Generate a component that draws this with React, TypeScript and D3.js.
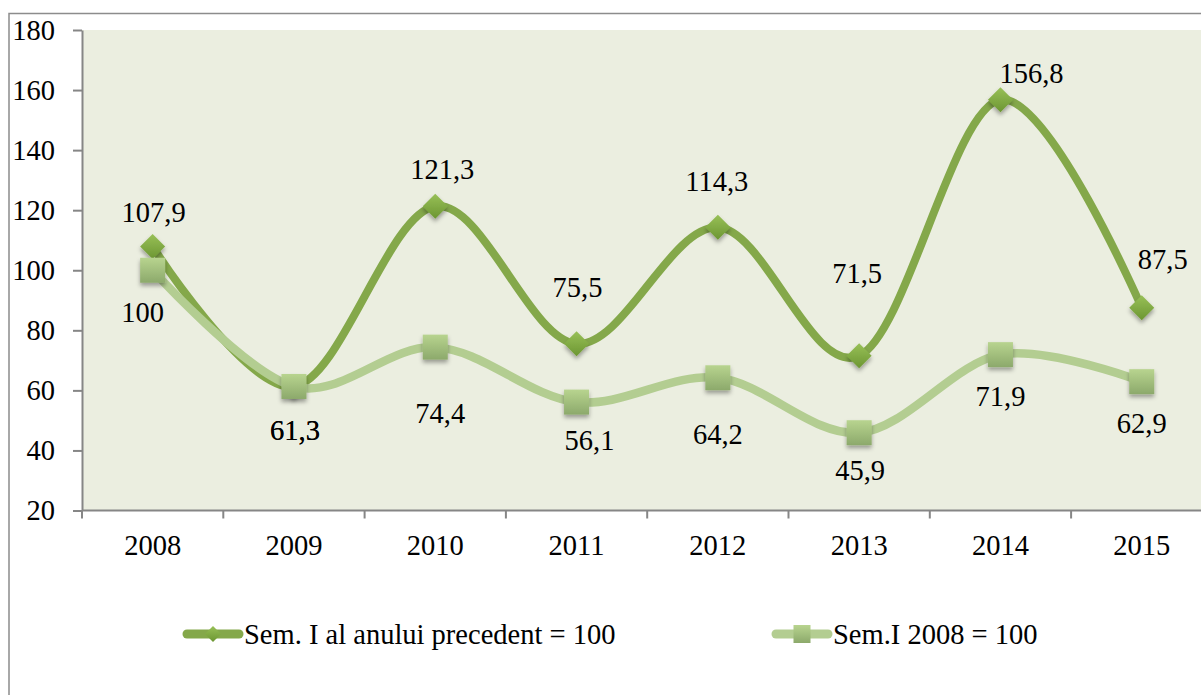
import React, { useEffect, useRef } from 'react';
import * as d3 from 'd3';

const years = ['2008', '2009', '2010', '2011', '2012', '2013', '2014', '2015'];
const semPrev = [107.9, 61.3, 121.3, 75.5, 114.3, 71.5, 156.8, 87.5];
const sem2008 = [100, 61.3, 74.4, 56.1, 64.2, 45.9, 71.9, 62.9];
const yTicks = [20, 40, 60, 80, 100, 120, 140, 160, 180];
const seriesNames = ['Sem. I al anului precedent = 100', 'Sem.I 2008 = 100'];

// label nudges (px) relative to each point, as Excel placed them
const prevLabelOffset = [[1, -35], [1, 44], [7, -37], [1, -57], [-1, -46], [-2, -83], [31, -27], [21, -49]];
const baseLabelOffset = [[-10, 42], [1, 44], [5, 66], [13, 38], [0, 56], [1, 37], [0, 41], [0, 41]];

const W = 1201;
const H = 695;
const FONT = '"Liberation Serif", serif';
const FS = 28.5;

const App: React.FC = () => {
    const svgRef = useRef<SVGSVGElement>(null);

    useEffect(() => {
        if (!svgRef.current) return;
        const svg = d3.select(svgRef.current);
        svg.selectAll('*').remove();

        const left = 82;
        const top = 30;
        const bottom = 510.5;
        const band = 141.3;

        const x = d3.scaleBand<string>()
            .domain(years)
            .range([left, left + band * years.length])
            .padding(0);
        const cx = (d: string) => (x(d) as number) + x.bandwidth() / 2;

        const y = d3.scaleLinear().domain([20, 180]).range([bottom, top]);

        const defs = svg.append('defs');

        const dg = defs.append('linearGradient')
            .attr('id', 'diamond-grad')
            .attr('x1', '0%').attr('y1', '0%').attr('x2', '0%').attr('y2', '100%');
        dg.append('stop').attr('offset', '0%').attr('stop-color', '#98c057');
        dg.append('stop').attr('offset', '100%').attr('stop-color', '#6c9632');

        const sg = defs.append('linearGradient')
            .attr('id', 'square-grad')
            .attr('x1', '0%').attr('y1', '0%').attr('x2', '0%').attr('y2', '100%');
        sg.append('stop').attr('offset', '0%').attr('stop-color', '#b8d48f');
        sg.append('stop').attr('offset', '100%').attr('stop-color', '#8ca96b');

        const shadow = defs.append('filter')
            .attr('id', 'mk-shadow')
            .attr('x', '-50%').attr('y', '-50%').attr('width', '200%').attr('height', '200%');
        shadow.append('feDropShadow')
            .attr('dx', 0).attr('dy', 3).attr('stdDeviation', 2)
            .attr('flood-color', '#000').attr('flood-opacity', 0.35);

        // outer chart border
        svg.append('rect')
            .attr('x', 9).attr('y', 13.5)
            .attr('width', W + 20).attr('height', H + 20)
            .attr('fill', '#fff')
            .attr('stroke', '#8c8c8c')
            .attr('stroke-width', 1.5);

        // plot area
        svg.append('rect')
            .attr('x', left).attr('y', top)
            .attr('width', band * years.length).attr('height', bottom - top)
            .attr('fill', '#ebeee0');

        // Y axis
        const yAxis = svg.append('g')
            .attr('transform', `translate(${left}, 0)`)
            .call(d3.axisLeft(y).tickValues(yTicks).tickSize(9).tickSizeOuter(0).tickPadding(18).tickFormat(d => `${d}`));
        yAxis.select('.domain').attr('stroke', '#868686').attr('stroke-width', 2);
        yAxis.selectAll('.tick line').attr('stroke', '#868686').attr('stroke-width', 2);
        yAxis.selectAll('.tick text')
            .attr('font-family', FONT).attr('font-size', FS).attr('fill', '#000');

        // X axis (ticks between categories)
        const xAxis = svg.append('g');
        xAxis.append('line')
            .attr('x1', left).attr('x2', left + band * years.length)
            .attr('y1', bottom).attr('y2', bottom)
            .attr('stroke', '#868686').attr('stroke-width', 2);
        xAxis.selectAll('.xt')
            .data(years)
            .enter()
            .append('line')
            .attr('x1', d => x(d) as number).attr('x2', d => x(d) as number)
            .attr('y1', bottom).attr('y2', bottom + 8)
            .attr('stroke', '#868686').attr('stroke-width', 2);
        xAxis.selectAll('.xl')
            .data(years)
            .enter()
            .append('text')
            .attr('x', d => cx(d))
            .attr('y', 545)
            .attr('dy', '0.35em')
            .attr('text-anchor', 'middle')
            .attr('font-family', FONT).attr('font-size', FS)
            .text(d => d);

        const line = d3.line<number>()
            .x((_, i) => cx(years[i]))
            .y(d => y(d))
            .curve(d3.curveCatmullRom.alpha(0));

        const diamond = (g: d3.Selection<any, any, any, any>, r: number) =>
            g.append('path')
                .attr('d', `M0,${-r}L${r},0L0,${r}L${-r},0Z`)
                .attr('fill', 'url(#diamond-grad)');

        const square = (g: d3.Selection<any, any, any, any>, w: number, h: number) =>
            g.append('rect')
                .attr('x', -w / 2).attr('y', -h / 2)
                .attr('width', w).attr('height', h)
                .attr('fill', 'url(#square-grad)');

        // Series 1
        svg.append('path')
            .datum(semPrev)
            .attr('fill', 'none')
            .attr('stroke', '#84a84a')
            .attr('stroke-width', 8)
            .attr('stroke-linecap', 'round')
            .attr('d', line);
        semPrev.forEach((v, i) => {
            const g = svg.append('g')
                .attr('transform', `translate(${cx(years[i])}, ${y(v)})`)
                .attr('filter', 'url(#mk-shadow)');
            diamond(g, 12.5);
        });

        // Series 2
        svg.append('path')
            .datum(sem2008)
            .attr('fill', 'none')
            .attr('stroke', '#b3cd91')
            .attr('stroke-width', 8.5)
            .attr('stroke-linecap', 'round')
            .attr('d', line);
        sem2008.forEach((v, i) => {
            const g = svg.append('g')
                .attr('transform', `translate(${cx(years[i])}, ${y(v)})`)
                .attr('filter', 'url(#mk-shadow)');
            square(g, 25, 25);
        });

        // data labels
        const fmt = (v: number) => (Number.isInteger(v) ? `${v}` : v.toFixed(1).replace('.', ','));
        const labels = (vals: number[], offs: number[][]) =>
            svg.append('g').selectAll('text')
                .data(vals)
                .enter()
                .append('text')
                .attr('x', (_, i) => cx(years[i]) + offs[i][0])
                .attr('y', (d, i) => y(d) + offs[i][1])
                .attr('dy', '0.35em')
                .attr('text-anchor', 'middle')
                .attr('font-family', FONT).attr('font-size', FS)
                .attr('fill', '#000')
                .text(d => fmt(d));
        labels(semPrev, prevLabelOffset);
        labels(sem2008, baseLabelOffset);

        // legend
        const legY = 634;
        const leg1 = svg.append('g').attr('transform', `translate(183, ${legY})`);
        leg1.append('line')
            .attr('x1', 4).attr('x2', 56).attr('y1', 0).attr('y2', 0)
            .attr('stroke', '#84a84a').attr('stroke-width', 9).attr('stroke-linecap', 'round');
        diamond(leg1.append('g').attr('transform', 'translate(30, 0)'), 8);
        leg1.append('text')
            .attr('x', 61).attr('y', 0).attr('dy', '0.35em')
            .attr('font-family', FONT).attr('font-size', FS)
            .text(seriesNames[0]);

        const leg2 = svg.append('g').attr('transform', `translate(772, ${legY})`);
        leg2.append('line')
            .attr('x1', 4).attr('x2', 56).attr('y1', 0).attr('y2', 0)
            .attr('stroke', '#b3cd91').attr('stroke-width', 9).attr('stroke-linecap', 'round');
        square(leg2.append('g').attr('transform', 'translate(30, 0)'), 17, 18);
        leg2.append('text')
            .attr('x', 61).attr('y', 0).attr('dy', '0.35em')
            .attr('font-family', FONT).attr('font-size', FS)
            .text(seriesNames[1]);
    }, []);

    return (
        <svg
            ref={svgRef}
            width={W}
            height={H}
            style={{ position: 'absolute', left: 0, top: 0, display: 'block' }}
        ></svg>
    );
};

export default App;
